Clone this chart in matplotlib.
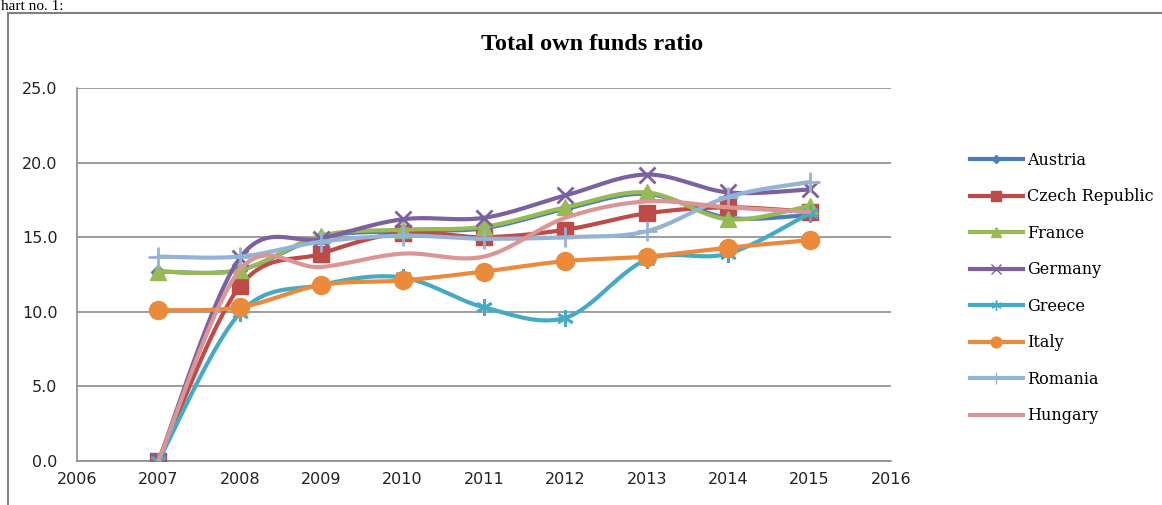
import matplotlib.pyplot as plt
from matplotlib.patches import Rectangle
import numpy as np

years = [2007, 2008, 2009, 2010, 2011, 2012, 2013, 2014, 2015]
countries = ['Austria', 'Czech Republic', 'France', 'Germany', 'Greece', 'Italy', 'Romania', 'Hungary']

austria = [12.7, 12.8, 15.0, 15.4, 15.6, 16.9, 17.9, 16.3, 16.5]
czech = [0.0, 11.7, 13.9, 15.3, 15.0, 15.5, 16.6, 17.0, 16.7]
france = [12.7, 12.8, 15.1, 15.5, 15.7, 17.0, 18.0, 16.2, 17.1]
germany = [0.0, 13.6, 14.9, 16.2, 16.3, 17.8, 19.2, 18.0, 18.2]
greece = [0.0, 9.9, 11.8, 12.3, 10.3, 9.6, 13.5, 13.9, 16.6]
italy = [10.1, 10.3, 11.8, 12.1, 12.7, 13.4, 13.7, 14.3, 14.8]
romania = [13.7, 13.7, 14.7, 15.1, 14.9, 15.0, 15.4, 17.7, 18.7]
hungary = [0.0, 12.8, 13.0, 13.9, 13.7, 16.3, 17.4, 17.0, 16.7]

series = [austria, czech, france, germany, greece, italy, romania, hungary]
colors = ['#4A7EBB', '#BE4B48', '#98B954', '#7D60A0', '#46AAC5', '#EC8A3C', '#95B3D7', '#D99694']
markers = ['D', 's', '^', 'x', (6, 2, 0), 'o', '+', None]
msizes = [7, 11, 11, 12, 12, 13, 14, 0]


def smooth(x, y, n=30):
    # excel style smoothed line (catmull-rom bezier)
    x = np.asarray(x, float)
    y = np.asarray(y, float)
    px = np.concatenate([[x[0]], x, [x[-1]]])
    py = np.concatenate([[y[0]], y, [y[-1]]])
    t = np.linspace(0, 1, n)
    xs, ys = [], []
    for i in range(1, len(px) - 2):
        p0x, p1x, p2x, p3x = px[i - 1], px[i], px[i + 1], px[i + 2]
        p0y, p1y, p2y, p3y = py[i - 1], py[i], py[i + 1], py[i + 2]
        c1x = p1x + (p2x - p0x) / 6
        c1y = p1y + (p2y - p0y) / 6
        c2x = p2x - (p3x - p1x) / 6
        c2y = p2y - (p3y - p1y) / 6
        bx = (1 - t) ** 3 * p1x + 3 * (1 - t) ** 2 * t * c1x + 3 * (1 - t) * t ** 2 * c2x + t ** 3 * p2x
        by = (1 - t) ** 3 * p1y + 3 * (1 - t) ** 2 * t * c1y + 3 * (1 - t) * t ** 2 * c2y + t ** 3 * p2y
        xs.extend(bx)
        ys.extend(by)
    return xs, ys


fig = plt.figure(figsize=(11.62, 5.05), dpi=100)
ax = fig.add_axes([77 / 1162, 1 - 461 / 505, (891 - 77) / 1162, (461 - 88) / 505])

fig.patches.append(Rectangle((8 / 1162, -0.1), 1.2, 1 - 13 / 505 + 0.1, transform=fig.transFigure,
                             fill=False, edgecolor='#808080', linewidth=1.5, clip_on=False))
fig.text(1 / 1162, 1 - 10 / 505, 'hart no. 1:', family='Liberation Serif', fontsize=11, va='baseline')

for name, vals, c, m, ms in zip(countries, series, colors, markers, msizes):
    sx, sy = smooth(years, vals)
    ax.plot(sx, sy, color=c, linewidth=3, solid_capstyle='round', zorder=3)
    mew = 2 if m in ('x', '+', (6, 2, 0)) else 1
    ax.plot(years, vals, linestyle='none', marker=m, markersize=ms, color=c,
            markeredgewidth=mew, zorder=3)
    ax.plot([], [], color=c, linewidth=3, marker=m, markersize=ms * 0.6,
            markeredgewidth=1, label=name)

ax.set_xlim(2006, 2016)
ax.set_ylim(0, 25)
ax.set_xticks(range(2006, 2017))
ax.set_yticks(np.arange(0, 26, 5))
ax.set_yticklabels(['%.1f' % v for v in np.arange(0, 26, 5)])
ax.tick_params(length=0, labelsize=11.5, colors='#222222', pad=14)
ax.tick_params(axis='x', pad=8)
ax.grid(axis='y', color='#8C8C8C', linewidth=1.2)
ax.set_axisbelow(True)
for s in ['top', 'right']:
    ax.spines[s].set_visible(False)
for s in ['left', 'bottom']:
    ax.spines[s].set_color('#8C8C8C')
    ax.spines[s].set_linewidth(1.2)

fig.text(592 / 1162, 1 - 44 / 505, 'Total own funds ratio', family='Liberation Serif',
         fontweight='bold', fontsize=17.5, ha='center', va='center')

fig.legend(loc='upper left', bbox_to_anchor=(970 / 1162, 1 - 152 / 505), frameon=False,
           prop={'family': 'DejaVu Serif', 'size': 11.5}, handlelength=3.3, handletextpad=0.25,
           labelspacing=1.22, borderpad=0, borderaxespad=0)

plt.savefig('out.png')
